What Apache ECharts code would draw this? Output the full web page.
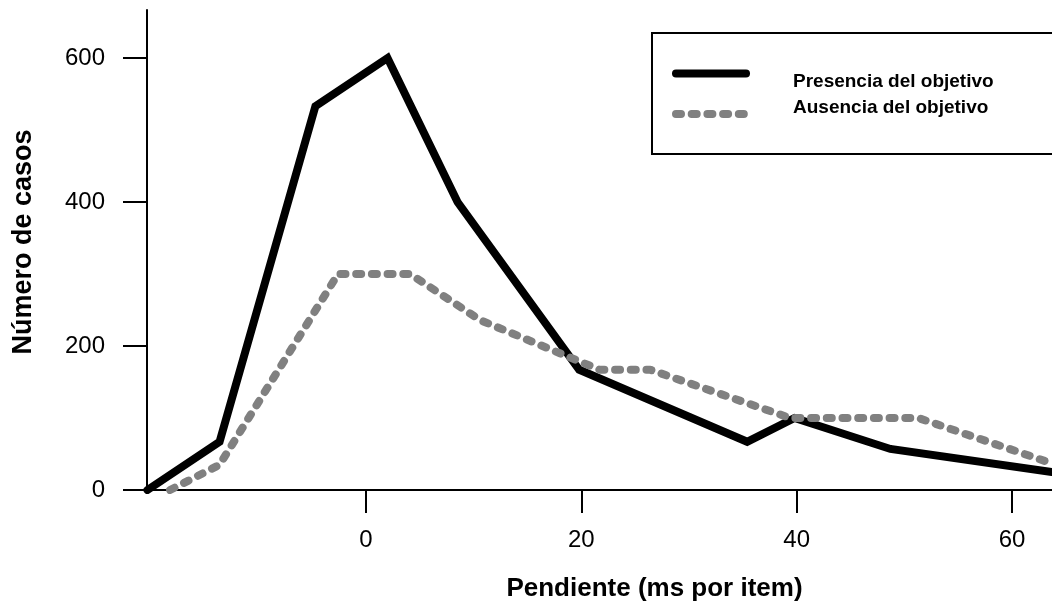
<!DOCTYPE html>
<html>
<head>
<meta charset="utf-8">
<script src="https://cdn.jsdelivr.net/npm/echarts@6/dist/echarts.min.js"></script>
<style>
  html, body { margin: 0; padding: 0; background: #fff; }
  #chart { width: 1052px; height: 608px; }
</style>
</head>
<body>
<div id="chart"></div>
<script>
// Frequency polygons: slope (ms per item) vs. number of cases
const seriesNames = ['Presencia del objetivo', 'Ausencia del objetivo'];

const presenciaX = [-20.3, -13.6, -4.7, 2.0, 8.5, 19.8, 35.4, 39.8, 48.7, 63.7];
const presenciaY = [0, 67, 533, 600, 400, 167, 67, 100, 57, 25];

const ausenciaX = [-18.2, -13.6, -2.6, 4.1, 10.6, 21.7, 26.4, 39.4, 51.3, 63.7];
const ausenciaY = [0, 35, 300, 300, 236, 167, 167, 100, 100, 37];

const xTicks = [0, 20, 40, 60];
const yTicks = [0, 200, 400, 600];

const xTitle = 'Pendiente (ms por item)';
const yTitle = 'Número de casos';

const pair = (xs, ys) => xs.map((x, i) => [x, ys[i]]);

const FONT = '"Liberation Sans", Arial, sans-serif';

const solidStyle = { color: '#000', width: 8, cap: 'round', join: 'miter' };
const dashedStyle = { color: '#808080', width: 8, type: [5, 10.7], cap: 'round', join: 'round' };

// Legend box, sample lines and labels
const legendLineY = [73.5, 114];
const legendTextY = [82, 108];
const legendGraphics = [{
  type: 'rect',
  shape: { x: 652, y: 33, width: 420, height: 121 },
  style: { fill: '#fff', stroke: '#000', lineWidth: 2 },
  z: 10
}];
[solidStyle, dashedStyle].forEach((ls, i) => {
  legendGraphics.push({
    type: 'line',
    shape: { x1: 676, y1: legendLineY[i], x2: 746, y2: legendLineY[i] },
    style: {
      stroke: ls.color, lineWidth: ls.width, lineCap: 'round',
      lineDash: ls.type ? ls.type : null
    },
    z: 11
  });
  legendGraphics.push({
    type: 'text',
    x: 793, y: legendTextY[i],
    style: {
      text: seriesNames[i], fill: '#000',
      fontFamily: FONT, fontWeight: 'bold', fontSize: 19,
      verticalAlign: 'middle'
    },
    z: 11
  });
});

const chart = echarts.init(document.getElementById('chart'), null, { renderer: 'canvas' });

chart.setOption({
  animation: false,
  backgroundColor: '#ffffff',
  grid: { left: 147, right: 0, top: 10, bottom: 118, containLabel: false },
  xAxis: {
    type: 'value',
    min: -20.34,
    max: 63.71,
    axisLine: { show: true, onZero: false, lineStyle: { color: '#000', width: 2 } },
    axisTick: { show: true, length: 23, lineStyle: { color: '#000', width: 2 }, customValues: xTicks },
    axisLabel: { color: '#000', fontFamily: FONT, fontSize: 24, margin: 38, customValues: xTicks },
    splitLine: { show: false },
    name: xTitle,
    nameLocation: 'middle',
    nameGap: 86,
    nameTextStyle: { color: '#000', fontFamily: FONT, fontWeight: 'bold', fontSize: 26, padding: [0, 0, 0, 110] }
  },
  yAxis: {
    type: 'value',
    min: 0,
    max: 666.7,
    axisLine: { show: true, onZero: false, lineStyle: { color: '#000', width: 2 } },
    axisTick: { show: true, length: 24, lineStyle: { color: '#000', width: 2 }, customValues: yTicks },
    axisLabel: { color: '#000', fontFamily: FONT, fontSize: 24, margin: 42, customValues: yTicks },
    splitLine: { show: false },
    name: yTitle,
    nameLocation: 'middle',
    nameGap: 110,
    nameTextStyle: { color: '#000', fontFamily: FONT, fontWeight: 'bold', fontSize: 27, padding: [0, 0, 0, 16] }
  },
  graphic: legendGraphics,
  series: [
    {
      name: seriesNames[0],
      type: 'line',
      symbol: 'none',
      clip: true,
      data: pair(presenciaX, presenciaY),
      lineStyle: solidStyle,
      z: 3
    },
    {
      name: seriesNames[1],
      type: 'line',
      symbol: 'none',
      clip: true,
      data: pair(ausenciaX, ausenciaY),
      lineStyle: dashedStyle,
      z: 4
    }
  ]
});
</script>
</body>
</html>
